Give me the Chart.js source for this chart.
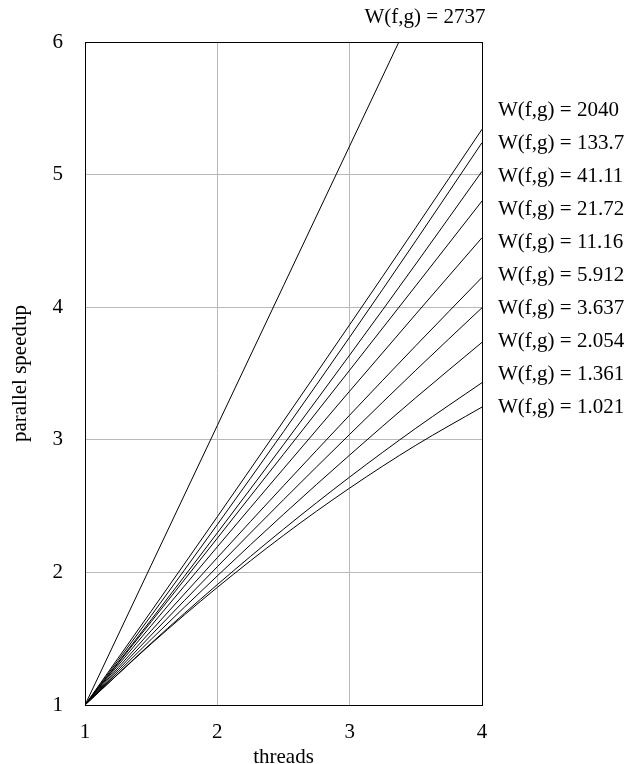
<!DOCTYPE html>
<html>
<head>
<meta charset="utf-8">
<script src="https://cdn.jsdelivr.net/npm/chart.js@4"></script>
<style>
  html, body { margin: 0; padding: 0; background: #fff; }
  #wrap { width: 631px; height: 764px; }
</style>
</head>
<body>
<div id="wrap"><canvas id="c" width="631" height="764"></canvas></div>
<script>
// ---- data ----
const threads = [1, 1.5, 2, 2.5, 3, 3.5, 4];
const xTicks = [1, 2, 3, 4];
const yTicks = [1, 2, 3, 4, 5, 6];
const topLabel = "W(f,g) = 2737";
const s2737 = [1, 2.054, 3.108, 4.162, 5.216, 6.270, 7.324];
const seriesLabels = ["W(f,g) = 2040", "W(f,g) = 133.7", "W(f,g) = 41.11", "W(f,g) = 21.72", "W(f,g) = 11.16",
                      "W(f,g) = 5.912", "W(f,g) = 3.637", "W(f,g) = 2.054", "W(f,g) = 1.361", "W(f,g) = 1.021"];
const s2040 = [1, 1.707, 2.420, 3.141, 3.868, 4.601, 5.342];
const s1337 = [1, 1.674, 2.361, 3.061, 3.774, 4.501, 5.241];
const s4111 = [1, 1.643, 2.298, 2.963, 3.639, 4.326, 5.025];
const s2172 = [1, 1.628, 2.258, 2.891, 3.525, 4.162, 4.801];
const s1116 = [1, 1.598, 2.193, 2.782, 3.367, 3.948, 4.524];
const s5912 = [1, 1.560, 2.111, 2.653, 3.186, 3.710, 4.225];
const s3637 = [1, 1.527, 2.043, 2.548, 3.041, 3.525, 3.996];
const s2054 = [1, 1.495, 1.974, 2.438, 2.885, 3.318, 3.735];
const s1361 = [1, 1.466, 1.908, 2.326, 2.719, 3.087, 3.431];
const s1021 = [1, 1.461, 1.887, 2.279, 2.636, 2.959, 3.247];

const allSeries = [s2737, s2040, s1337, s4111, s2172, s1116, s5912, s3637, s2054, s1361, s1021];
const allNames = [topLabel].concat(seriesLabels);

const FONT = "'Liberation Serif', 'Times New Roman', serif";

const datasets = allSeries.map((vals, i) => ({
  label: allNames[i],
  data: threads.map((t, j) => ({ x: t, y: vals[j] })),
  borderColor: '#000',
  borderWidth: 1,
  pointRadius: 0,
  fill: false,
  tension: 0,
  cubicInterpolationMode: 'monotone'
}));

const annotate = {
  id: 'annotate',
  afterDraw(chart) {
    const { ctx, chartArea: a } = chart;
    ctx.save();
    // frame
    ctx.strokeStyle = '#000';
    ctx.lineWidth = 1;
    const L = Math.round(a.left), T = Math.round(a.top), R = Math.round(a.right), B = Math.round(a.bottom);
    ctx.strokeRect(L + 0.5, T + 0.5, R - L, B - T);
    // right labels
    ctx.fillStyle = '#000';
    ctx.font = "21px " + FONT;
    ctx.textAlign = 'left';
    ctx.textBaseline = 'middle';
    seriesLabels.forEach((txt, i) => {
      ctx.fillText(txt, a.right + 16, a.top + 68 + 33.1 * i);
    });
    // top label
    ctx.textAlign = 'center';
    ctx.fillText(topLabel, a.right - 57, a.top - 25);
    ctx.restore();
  }
};

new Chart(document.getElementById('c'), {
  type: 'line',
  data: { datasets },
  plugins: [annotate],
  options: {
    responsive: false,
    animation: false,
    layout: { padding: { left: 0, top: 42, right: 149, bottom: 0 } },
    plugins: { legend: { display: false }, tooltip: { enabled: false } },
    scales: {
      x: {
        type: 'linear', min: 1, max: 4,
        afterFit(s) { s.height = 59; },
        afterBuildTicks(s) { s.ticks = xTicks.map(v => ({ value: v })); },
        grid: { color: '#b8b8b8', lineWidth: 1, drawTicks: false },
        border: { display: false },
        ticks: { color: '#000', font: { family: FONT, size: 21 }, padding: 15, maxRotation: 0 },
        title: { display: true, text: 'threads', color: '#000', font: { family: FONT, size: 21 }, padding: { top: 0, bottom: -6 } }
      },
      y: {
        type: 'linear', min: 1, max: 6,
        afterFit(s) { s.width = 85; },
        afterBuildTicks(s) { s.ticks = yTicks.map(v => ({ value: v })); },
        grid: { color: '#b8b8b8', lineWidth: 1, drawTicks: false },
        border: { display: false },
        ticks: { color: '#000', font: { family: FONT, size: 21 }, padding: 22 },
        title: { display: true, text: 'parallel speedup', color: '#000', font: { family: FONT, size: 21 }, padding: { top: 8, bottom: 0 } }
      }
    }
  }
});
</script>
</body>
</html>
